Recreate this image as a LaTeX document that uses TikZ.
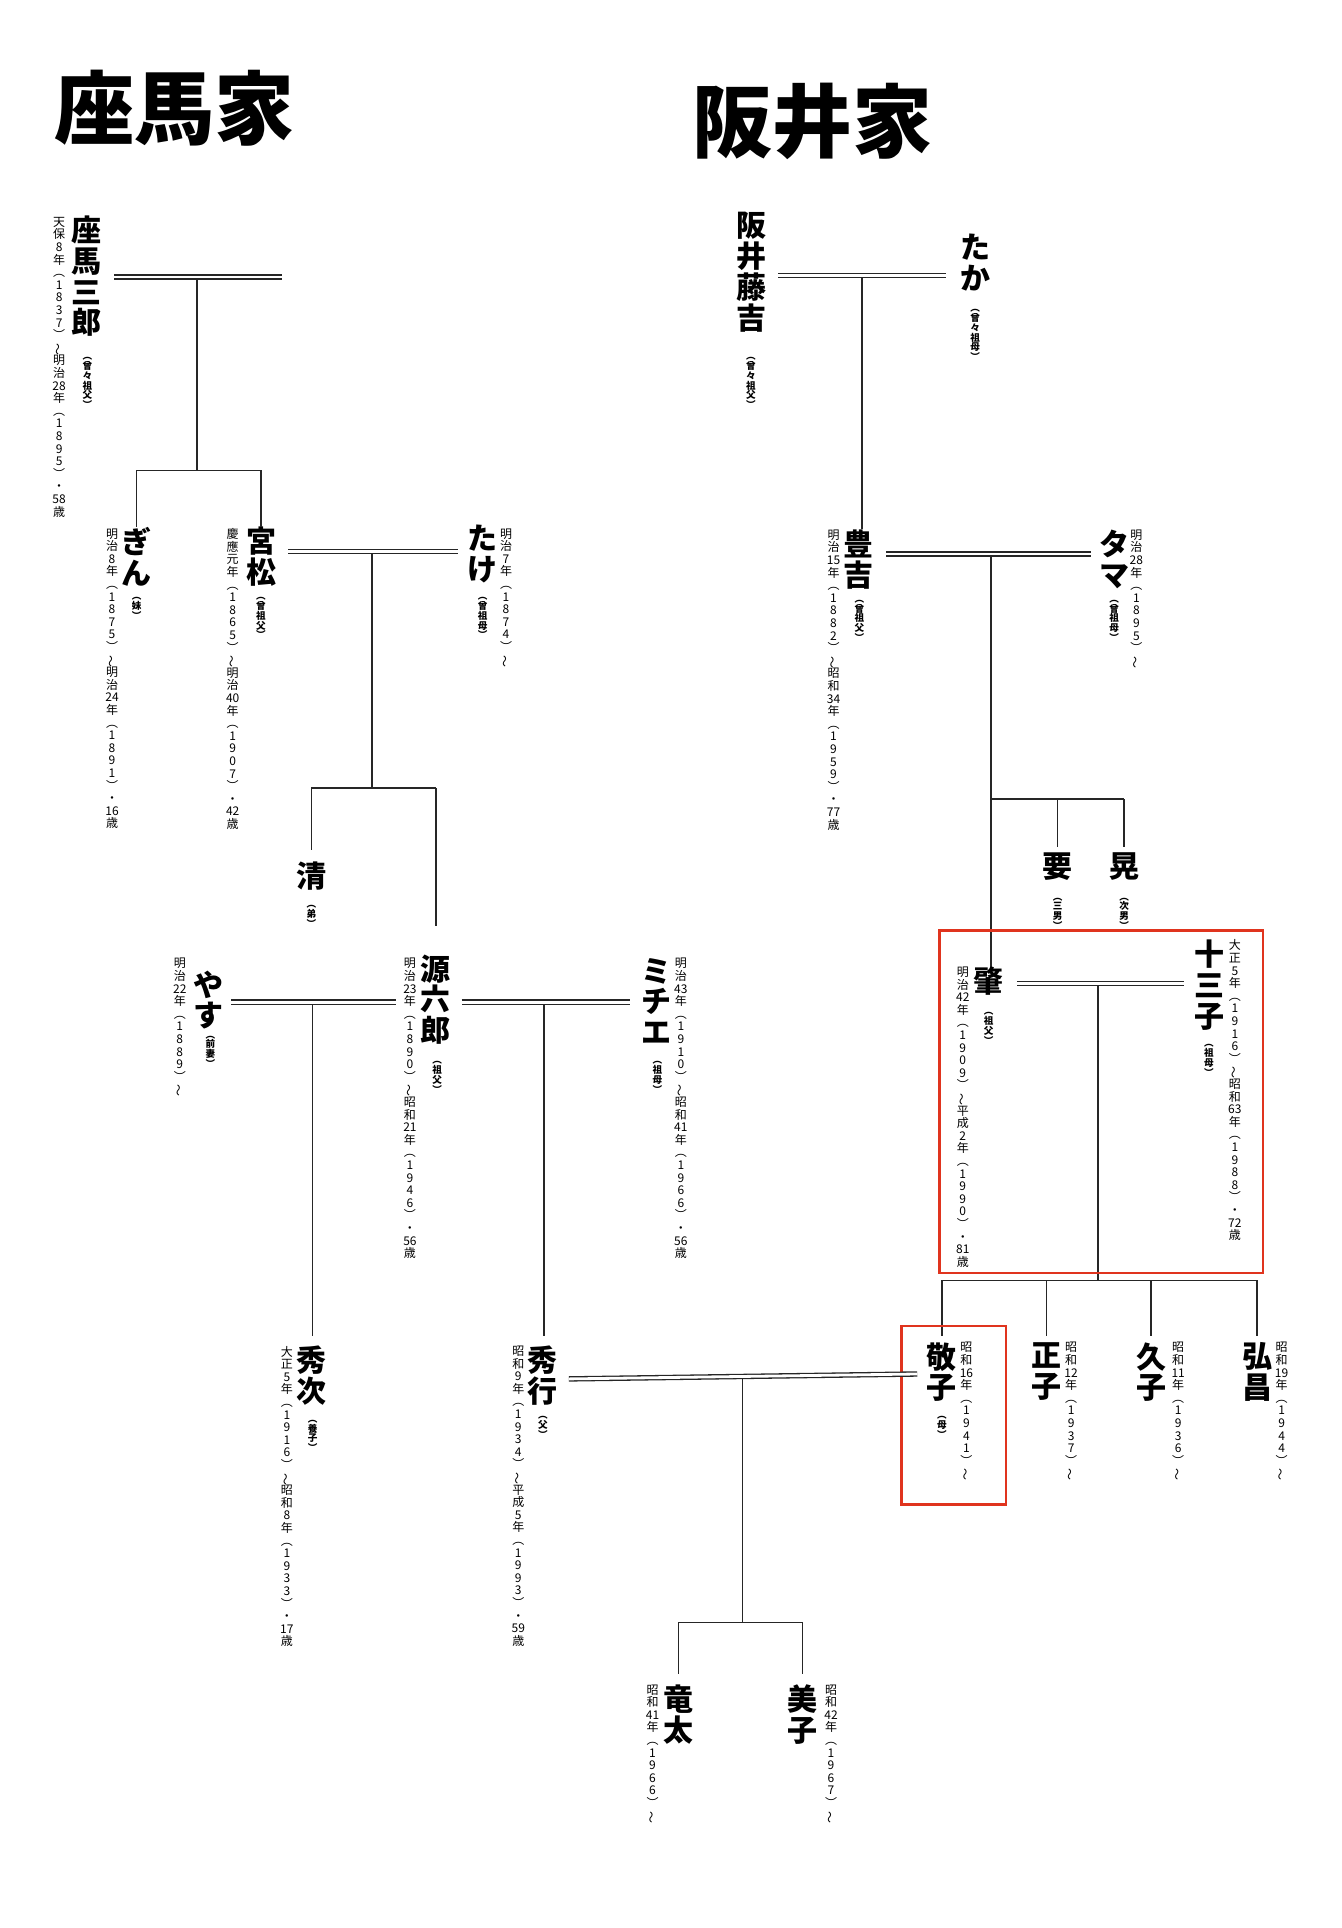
\documentclass[tikz,border=0pt]{standalone}
\usepackage{fontspec}
\setmainfont{Noto Sans CJK JP}
\def\vtstop{\vtstop}
\def\vtstopm{\vtstop}
\def\vtA#1{\def\vtarg{#1}\ifx\vtarg\vtstopm\else\hbox to 1em{\hss#1\hss}\expandafter\vtA\fi}
\newcommand\vtx[3]{\vbox{\fontsize{#1}{#2}\selectfont\baselineskip=#2\lineskiplimit=-100pt\lineskip=0pt\vtA#3\vtstop}}
\newcommand\wv{\rotatebox[origin=c]{90}{〜}}
\newcommand\NM[1]{\vtx{15pt}{15.4pt}{#1}}
\newcommand\AN[1]{\vtx{6pt}{6.3pt}{#1}}
\newcommand\RL[1]{{\bfseries\vtx{4.8pt}{4.9pt}{#1}}}
\definecolor{boxred}{HTML}{E0341E}
\tikzset{
 t/.style={anchor=north,inner sep=0pt,font=\bfseries},
 s/.style={anchor=north,inner sep=0pt},
 ln/.style={line width=0.75pt,black!85},
 dbl/.style={double=white,double distance=1.4pt,line width=0.65pt,black!85},
 rbox/.style={draw=boxred,line width=1.3pt}
}
\begin{document}
\begin{tikzpicture}[x=0.6156pt,y=-0.6156pt]
\useasboundingbox (0,0) rectangle (1090,1566);
% titles
\node[inner sep=0,font=\bfseries\fontsize{40pt}{40pt}\selectfont] (t1) at (142,88) {座馬家};
\node[inner sep=0,font=\bfseries\fontsize{40pt}{40pt}\selectfont] (t2) at (660,99) {阪井家};
% ===== Zama family
\node[t] (zama) at (70,175) {\NM{座馬三郎}};
\node[s] (zamaA) at (48,176) {\AN{天保8年︵1837︶\wv 明治{28}年︵1895︶・{58}歳}};
\node[s] (zamaR) at (71,290) {\RL{︵曾々祖父︶}};
\coordinate (z1) at (93,225); \coordinate (z2) at (229,225);
\draw[dbl] (z1) -- (z2);
\coordinate (z3) at (160,226); \coordinate (z4) at (160,382);
\draw[ln] (z3) -- (z4);
\coordinate (z5) at (111,382); \coordinate (z6) at (212,382);
\draw[ln] (z5|-z4) -- (z6);
\node[t] (gin) at (111,428) {\NM{ぎん}};
\node[s] (ginA) at (91,429) {\AN{明治8年︵1875︶\wv 明治{24}年︵1891︶・{16}歳}};
\node[s] (ginR) at (111,485) {\RL{︵妹︶}};
\node[t] (miya) at (212,428) {\NM{宮松}};
\node[s] (miyaA) at (189,429) {\AN{慶應元年︵1865︶\wv 明治{40}年︵1907︶・{42}歳}};
\node[s] (miyaR) at (212,485) {\RL{︵曾祖父︶}};
\draw[ln] (z5) -- (gin.north);
\draw[ln] (z6) -- (miya.north);
\node[t] (take) at (392,426) {\NM{たけ}};
\node[s] (takeA) at (411,429) {\AN{明治7年︵1874︶\wv}};
\node[s] (takeR) at (392,485) {\RL{︵曾祖母︶}};
\coordinate (m1) at (234,448); \coordinate (m2) at (372,448);
\draw[dbl] (m1) -- (m2);
\coordinate (m3) at (302,450); \coordinate (m4) at (302,640);
\draw[ln] (m3) -- (m4);
\coordinate (m5) at (253,640); \coordinate (m6) at (354,640);
\draw[ln] (m5) -- (m6);
\node[t] (kiyo) at (253,700) {\NM{清}};
\node[s] (kiyoR) at (253,735) {\RL{︵弟︶}};
\coordinate (m7) at (253,690); \draw[ln] (m5) -- (m7);
\coordinate (m8) at (354,752); \draw[ln] (m6) -- (m8);
\node[t] (gen) at (354,775) {\NM{源六郎}};
\node[s] (genA) at (333,778) {\AN{明治{23}年︵1890︶\wv 昭和{21}年︵1946︶・{56}歳}};
\node[s] (genR) at (355,862) {\RL{︵祖父︶}};
\node[t] (yasu) at (169,788) {\NM{やす}};
\node[s] (yasuA) at (146,778) {\AN{明治{22}年︵1889︶\wv}};
\node[s] (yasuR) at (171,841) {\RL{︵前妻︶}};
\node[t] (michi) at (533,778) {\NM{ミチエ}};
\node[s] (michiA) at (553,778) {\AN{明治{43}年︵1910︶\wv 昭和{41}年︵1966︶・{56}歳}};
\node[s] (michiR) at (534,862) {\RL{︵祖母︶}};
\coordinate (g1) at (188,814); \coordinate (g2) at (322,814);
\draw[dbl] (g1) -- (g2);
\coordinate (g3) at (375,814); \coordinate (g4) at (512,814);
\draw[dbl] (g3) -- (g4);
\node[t] (hidetsu) at (253,1093) {\NM{秀次}};
\node[s] (hidetsuA) at (233,1093) {\AN{大正5年︵1916︶\wv 昭和8年︵1933︶・{17}歳}};
\node[s] (hidetsuR) at (254,1153) {\RL{︵養子︶}};
\node[t] (hideyu) at (441,1093) {\NM{秀行}};
\node[s] (hideyuA) at (421,1093) {\AN{昭和9年︵1934︶\wv 平成5年︵1993︶・{59}歳}};
\node[s] (hideyuR) at (441,1150) {\RL{︵父︶}};
\coordinate (g5) at (254,816); \coordinate (g6) at (254,1085);
\draw[ln] (g5) -- (g6);
\coordinate (g7) at (442,816); \coordinate (g8) at (442,1085);
\draw[ln] (g7) -- (g8);
% ===== Sakai family
\node[t] (fuji) at (610,172) {\NM{阪井藤吉}};
\node[s] (fujiR) at (610,290) {\RL{︵曾々祖父︶}};
\node[t] (taka) at (792,190) {\NM{たか}};
\node[s] (takaR) at (792,251) {\RL{︵曾々祖母︶}};
\coordinate (f1) at (632,224); \coordinate (f2) at (768,224);
\draw[dbl] (f1) -- (f2);
\node[t] (toyo) at (697,430) {\NM{豊吉}};
\node[s] (toyoA) at (677,430) {\AN{明治{15}年︵1882︶\wv 昭和{34}年︵1959︶・{77}歳}};
\node[s] (toyoR) at (698,487) {\RL{︵曾祖父︶}};
\coordinate (f3) at (700,226); \draw[ln] (f3) -- (toyo.north-|f3);
\node[t] (tama) at (905,430) {\NM{タマ}};
\node[s] (tamaA) at (923,430) {\AN{明治{28}年︵1895︶\wv}};
\node[s] (tamaR) at (905,487) {\RL{︵曾祖母︶}};
\coordinate (y1) at (720,450); \coordinate (y2) at (886,450);
\draw[dbl] (y1) -- (y2);
\coordinate (y3) at (805,452); \coordinate (y4) at (805,788);
\draw[ln] (y3) -- (y4);
\coordinate (y5) at (805,649); \coordinate (y6) at (913,649);
\draw[ln] (y5) -- (y6);
\coordinate (y7) at (859,649); \coordinate (y8) at (859,688); \draw[ln] (y7) -- (y8);
\coordinate (y9) at (913,688); \draw[ln] (y6) -- (y9);
\node[t] (kaname) at (859,692) {\NM{要}};
\node[s] (kanameR) at (859,729) {\RL{︵三男︶}};
\node[t] (akira) at (913,692) {\NM{晃}};
\node[s] (akiraR) at (913,729) {\RL{︵次男︶}};
\node[t] (hajime) at (803,785) {\NM{肇}};
\node[s] (hajimeA) at (782,785) {\AN{明治{42}年︵1909︶\wv 平成2年︵1990︶・{81}歳}};
\node[s] (hajimeR) at (803,822) {\RL{︵祖父︶}};
\node[t] (tomi) at (982,763) {\NM{十三子}};
\node[s] (tomiA) at (1003,763) {\AN{大正5年︵1916︶\wv 昭和{63}年︵1988︶・{72}歳}};
\node[s] (tomiR) at (982,848) {\RL{︵祖母︶}};
\coordinate (h1) at (826,799); \coordinate (h2) at (962,799);
\draw[dbl] (h1) -- (h2);
\coordinate (h3) at (892,801); \coordinate (h4) at (892,1040);
\draw[ln] (h3) -- (h4);
\coordinate (h5) at (765,1040); \coordinate (h6) at (1021,1040);
\draw[ln] (h5) -- (h6);
\foreach \xx/\nn in {765/a,850/b,935/c,1021/d}{
  \coordinate (k\nn) at (\xx,1040); \coordinate (l\nn) at (\xx,1085);
  \draw[ln] (k\nn) -- (l\nn);}
\draw[rbox] (763,756) rectangle (1026,1034);
\node[t] (keiko) at (765,1090) {\NM{敬子}};
\node[s] (keikoA) at (785,1090) {\AN{昭和{16}年︵1941︶\wv}};
\node[s] (keikoR) at (765,1150) {\RL{︵母︶}};
\node[t] (masako) at (850,1090) {\NM{正子}};
\node[s] (masakoA) at (870,1090) {\AN{昭和{12}年︵1937︶\wv}};
\node[t] (hisako) at (935,1090) {\NM{久子}};
\node[s] (hisakoA) at (957,1090) {\AN{昭和{11}年︵1936︶\wv}};
\node[t] (hiro) at (1021,1090) {\NM{弘昌}};
\node[s] (hiroA) at (1041,1090) {\AN{昭和{19}年︵1944︶\wv}};
\draw[rbox] (732,1077) rectangle (817,1222);
% marriage 秀行 - 敬子
\coordinate (p1) at (462,1120); \coordinate (p2) at (745,1116);
\draw[dbl] (p1) -- (p2);
\coordinate (p3) at (603,1120); \coordinate (p4) at (603,1318);
\draw[ln] (p3) -- (p4);
\coordinate (p5) at (551,1318); \coordinate (p6) at (652,1318);
\draw[ln] (p5) -- (p6);
\coordinate (p7) at (551,1360); \coordinate (p8) at (652,1360);
\draw[ln] (p5) -- (p7); \draw[ln] (p6) -- (p8);
\node[t] (ryuta) at (551,1368) {\NM{竜太}};
\node[s] (ryutaA) at (530,1368) {\AN{昭和{41}年︵1966︶\wv}};
\node[t] (yoshi) at (652,1368) {\NM{美子}};
\node[s] (yoshiA) at (675,1368) {\AN{昭和{42}年︵1967︶\wv}};
\end{tikzpicture}
\end{document}
